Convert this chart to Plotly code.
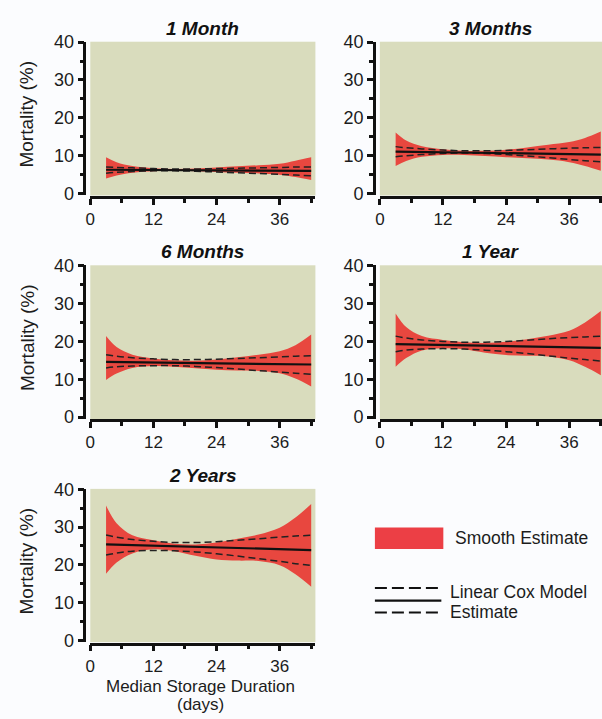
import plotly.graph_objects as go

# ---------------- data ----------------
panel_titles = ["1 Month", "3 Months", "6 Months", "1 Year", "2 Years"]

x_days = [3, 5, 8, 12, 16, 20, 24, 28, 32, 36, 39, 42]
est_x = [3, 42]

est_1m = [6.3, 6.0]
cox_up_1m = [7.0, 6.9, 6.8, 6.6, 6.5, 6.5, 6.6, 6.7, 6.8, 6.9, 7.0, 7.0]
cox_lo_1m = [5.4, 5.6, 5.8, 6.0, 6.0, 5.9, 5.7, 5.5, 5.3, 5.1, 4.9, 4.7]
sm_up_1m = [9.6, 8.3, 7.3, 6.7, 6.5, 6.6, 6.9, 7.2, 7.5, 7.9, 8.7, 9.6]
sm_lo_1m = [4.0, 4.8, 5.5, 5.9, 6.0, 5.9, 5.7, 5.5, 5.3, 5.0, 4.4, 3.6]

est_3m = [11.1, 10.3]
cox_up_3m = [12.4, 12.1, 11.8, 11.5, 11.3, 11.3, 11.4, 11.6, 11.8, 12.0, 12.1, 12.2]
cox_lo_3m = [9.7, 10.0, 10.3, 10.6, 10.7, 10.6, 10.3, 9.9, 9.5, 9.0, 8.7, 8.4]
sm_up_3m = [16.1, 14.0, 12.5, 11.7, 11.3, 11.3, 11.6, 12.2, 12.9, 13.6, 14.7, 16.4]
sm_lo_3m = [7.3, 8.6, 9.7, 10.2, 10.2, 9.9, 9.6, 9.3, 9.0, 8.3, 7.3, 6.0]

est_6m = [14.6, 13.9]
cox_up_6m = [16.5, 16.1, 15.7, 15.4, 15.2, 15.2, 15.3, 15.5, 15.7, 15.9, 16.1, 16.2]
cox_lo_6m = [13.0, 13.3, 13.5, 13.6, 13.6, 13.4, 13.1, 12.7, 12.3, 11.9, 11.6, 11.3]
sm_up_6m = [21.4, 18.5, 16.5, 15.5, 15.0, 14.9, 15.2, 15.8, 16.5, 17.4, 19.0, 21.8]
sm_lo_6m = [9.8, 11.5, 13.0, 13.5, 13.3, 12.9, 12.5, 12.3, 12.2, 11.6, 10.2, 8.1]

est_1y = [19.3, 18.3]
cox_up_1y = [21.4, 20.9, 20.4, 20.0, 19.8, 19.8, 20.0, 20.3, 20.7, 21.0, 21.2, 21.4]
cox_lo_1y = [17.3, 17.7, 18.0, 18.1, 18.0, 17.7, 17.3, 16.8, 16.2, 15.6, 15.2, 14.8]
sm_up_1y = [27.4, 23.8, 21.4, 20.4, 19.8, 19.6, 19.9, 20.6, 21.5, 22.8, 25.0, 28.0]
sm_lo_1y = [13.3, 15.6, 17.6, 18.2, 17.9, 17.0, 16.4, 16.2, 16.0, 15.0, 13.3, 11.1]

est_2y = [25.4, 23.9]
cox_up_2y = [27.9, 27.3, 26.7, 26.2, 25.9, 25.9, 26.1, 26.5, 26.9, 27.3, 27.6, 27.8]
cox_lo_2y = [22.6, 23.1, 23.6, 23.8, 23.7, 23.4, 22.9, 22.3, 21.6, 20.9, 20.3, 19.8]
sm_up_2y = [35.7, 31.0, 27.8, 26.5, 25.6, 25.4, 25.9, 26.9, 28.0, 29.8, 32.5, 36.1]
sm_lo_2y = [17.6, 20.6, 23.0, 24.1, 23.6, 22.4, 21.4, 21.1, 21.0, 19.9, 17.5, 14.2]

y_ticks = [0, 10, 20, 30, 40]
x_ticks = [0, 12, 24, 36]

panels = [
    (est_1m, cox_up_1m, cox_lo_1m, sm_up_1m, sm_lo_1m),
    (est_3m, cox_up_3m, cox_lo_3m, sm_up_3m, sm_lo_3m),
    (est_6m, cox_up_6m, cox_lo_6m, sm_up_6m, sm_lo_6m),
    (est_1y, cox_up_1y, cox_lo_1y, sm_up_1y, sm_lo_1y),
    (est_2y, cox_up_2y, cox_lo_2y, sm_up_2y, sm_lo_2y),
]

# ---------------- layout geometry ----------------
W, H = 602, 719
FONT = "Liberation Sans, Arial, sans-serif"
TXT = "#1c1c1c"
BAND = "#e8473f"
BG = "#d9dcbd"

def fx(px):
    return px / W

def fy(py):
    return 1 - py / H

cols = [(86, 313, 80, [0, 42.8]), (378, 602, 372, [0, 42.23])]
rows = [(33.5, 191, 192.5), (262.5, 420, 421), (491.5, 648.5, 650)]
cells = [(0, 0), (0, 1), (1, 0), (1, 1), (2, 0)]

fig = go.Figure()
layout = dict(
    width=W, height=H,
    margin=dict(l=0, r=0, t=0, b=0),
    paper_bgcolor="#fbfcfe",
    plot_bgcolor=BG,
    showlegend=False,
    font=dict(family=FONT, color=TXT, size=18),
)
annotations = []
shapes = []

for i, (r, c) in enumerate(cells):
    est, cu, cl, su, sl = panels[i]
    x0, x1, yaxis_px, xr = cols[c]
    top, bot, xaxis_py = rows[r]
    k = "" if i == 0 else str(i + 1)
    xa, ya = "x" + k, "y" + k

    # smooth estimate band
    fig.add_trace(go.Scatter(x=x_days, y=sl, mode="lines", line=dict(width=0, shape="spline", color=BAND),
                             xaxis=xa, yaxis=ya, hoverinfo="skip"))
    fig.add_trace(go.Scatter(x=x_days, y=su, mode="lines", line=dict(width=0, shape="spline", color=BAND),
                             fill="tonexty", fillcolor=BAND, xaxis=xa, yaxis=ya, hoverinfo="skip"))
    # linear cox model CI
    for arr in (cu, cl):
        fig.add_trace(go.Scatter(x=x_days, y=arr, mode="lines",
                                 line=dict(color="#222222", width=1.5, dash="7px,4px", shape="spline"),
                                 xaxis=xa, yaxis=ya))
    # estimate
    fig.add_trace(go.Scatter(x=est_x, y=est, mode="lines", line=dict(color="#111111", width=2.2),
                             xaxis=xa, yaxis=ya))

    layout["xaxis" + k] = dict(
        domain=[fx(x0), fx(x1)], range=xr, anchor="free", position=fy(xaxis_py),
        showgrid=False, zeroline=False, showline=True, linecolor="#111", linewidth=2.5,
        ticks="outside", ticklen=6, tickwidth=2.5, tickcolor="#111",
        tickvals=x_ticks, tickfont=dict(size=17, family=FONT, color=TXT),
        minor=dict(tickvals=[6, 18, 30, 42], ticks="outside", ticklen=4, tickwidth=2.5, tickcolor="#111"),
    )
    layout["yaxis" + k] = dict(
        domain=[fy(bot), fy(top)], range=[-0.5, 40.1], anchor="free", position=fx(yaxis_px),
        showgrid=False, zeroline=False, showline=True, linecolor="#111", linewidth=2.5,
        ticks="outside", ticklen=6, tickwidth=2.5, tickcolor="#111",
        tickvals=y_ticks, tickfont=dict(size=18, family=FONT, color=TXT),
        minor=dict(tickvals=[5, 15, 25, 35], ticks="outside", ticklen=4, tickwidth=2.5, tickcolor="#111"),
    )

    annotations.append(dict(
        x=fx((x0 + x1) / 2), y=fy(top - 14), xref="paper", yref="paper",
        text="<b><i>" + panel_titles[i] + "</i></b>", showarrow=False,
        font=dict(size=19, family=FONT, color="#111"), xanchor="center", yanchor="middle",
    ))
    if c == 0:
        annotations.append(dict(
            x=fx(22), y=fy((top + bot) / 2 - 5), xref="paper", yref="paper",
            text="Mortality (%)", textangle=-90, showarrow=False,
            font=dict(size=19, family=FONT, color=TXT), xanchor="center", yanchor="middle",
        ))

annotations.append(dict(x=fx(197), y=fy(694), xref="paper", yref="paper", text="Median Storage Duration",
                        showarrow=False, font=dict(size=17, family=FONT, color=TXT), xanchor="center",
                        yanchor="middle", borderpad=0))
annotations.append(dict(x=fx(197), y=fy(712), xref="paper", yref="paper", text="(days)",
                        showarrow=False, font=dict(size=17, family=FONT, color=TXT), xanchor="center",
                        yanchor="middle", borderpad=0))

# legend
shapes.append(dict(type="rect", xref="paper", yref="paper", x0=fx(373), x1=fx(442), y0=fy(553), y1=fy(531),
                   fillcolor="#ec3f45", line=dict(width=0)))
annotations.append(dict(x=fx(452), y=fy(542), xref="paper", yref="paper", text="Smooth Estimate",
                        showarrow=False, font=dict(size=17.5, family=FONT, color=TXT), xanchor="left", yanchor="middle"))
for yy, dash, w in ((593, "12px,5px", 2), (606, "solid", 2.4), (618, "12px,5px", 2)):
    shapes.append(dict(type="line", xref="paper", yref="paper", x0=fx(373), x1=fx(440), y0=fy(yy), y1=fy(yy),
                       line=dict(color="#111", width=w, dash=dash)))
annotations.append(dict(x=fx(447), y=fy(597), xref="paper", yref="paper", text="Linear Cox Model",
                        showarrow=False, font=dict(size=17.5, family=FONT, color=TXT), xanchor="left", yanchor="middle"))
annotations.append(dict(x=fx(447), y=fy(618), xref="paper", yref="paper", text="Estimate",
                        showarrow=False, font=dict(size=17.5, family=FONT, color=TXT), xanchor="left", yanchor="middle"))

layout["annotations"] = annotations
layout["shapes"] = shapes
fig.update_layout(**layout)
fig.write_html("out.html", config={"displayModeBar": False},
               post_script="document.body.style.margin='0px';document.body.style.background='#fbfcfe';")
